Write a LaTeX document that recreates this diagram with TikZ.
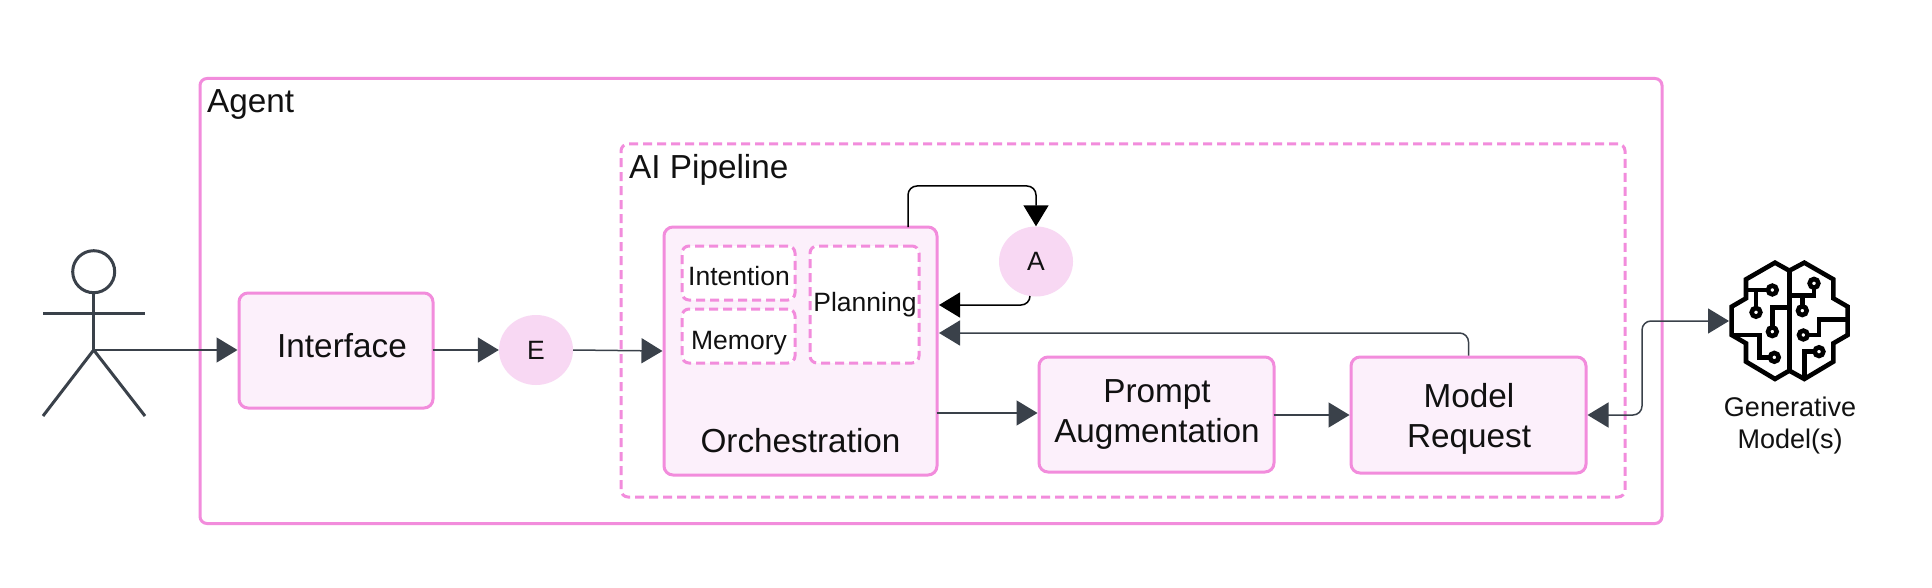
\documentclass[tikz,border=0pt]{standalone}
\usepackage{fontspec}
\setmainfont{Liberation Sans}
\usetikzlibrary{arrows.meta,calc,shapes.geometric}
\definecolor{pinkline}{HTML}{F28CDC}
\definecolor{pinkfill}{HTML}{FCF0FB}
\definecolor{pinkdisc}{HTML}{F8D8F3}
\definecolor{slateline}{HTML}{3A414A}
\definecolor{inktext}{HTML}{111111}
\tikzset{
  big/.style={font=\fontsize{33.3}{40}\selectfont,text=inktext,align=center,inner sep=0pt},
  small/.style={font=\fontsize{26.5}{32}\selectfont,text=inktext,align=center,inner sep=0pt},
  gen/.style={font=\fontsize{27}{32}\selectfont,text=inktext,align=center,inner sep=0pt},
  container/.style={draw=pinkline,line width=3pt,rounded corners=7pt,inner sep=0pt},
  dashedbox/.style={draw=pinkline,line width=3pt,rounded corners=7pt,dash pattern=on 9pt off 5pt,fill=white,inner sep=0pt},
  solidbox/.style={draw=pinkline,line width=3pt,rounded corners=9pt,fill=pinkfill,align=center,inner sep=0pt},
  disc/.style={ellipse,fill=pinkdisc,inner sep=0pt,minimum width=74pt,minimum height=70pt},
  conn/.style={draw=slateline,line width=1.5pt,rounded corners=9pt,-{Triangle[length=21pt,width=25pt]}},
  blackconn/.style={draw=black,line width=1.5pt,rounded corners=9pt,-{Triangle[length=21pt,width=25pt]}},
  twoway/.style={draw=slateline,line width=1.5pt,rounded corners=9pt,{Triangle[length=21pt,width=25pt]}-{Triangle[length=21pt,width=25pt]}},
  iconline/.style={draw=black,line width=4.6pt,line join=miter},
  actorline/.style={draw=slateline,line width=3pt},
}
\begin{document}
\begin{tikzpicture}[x=1pt,y=-1pt]
\useasboundingbox[fill=white] (0,0) rectangle (1932,588);
% containers
\node[container,minimum width=1462pt,minimum height=445pt] (agent) at (931,301) {};
\node[big,anchor=west] (agentlabel) at (207,105) {Agent};
\node[dashedbox,minimum width=1004pt,minimum height=353pt] (pipeline) at (1123,320.5) {};
\node[big,anchor=west] (pipelabel) at (629,170) {AI Pipeline};
% boxes
\node[solidbox,minimum width=194pt,minimum height=115pt] (interface) at (336,350.5) {};
\node[big] (interfacelabel) at (342,346) {Interface};
\node[solidbox,minimum width=273pt,minimum height=248pt] (orch) at (800.5,351) {};
\node[big] (orchlabel) at (800.5,441) {Orchestration};
\node[dashedbox,minimum width=113pt,minimum height=54pt] (intention) at (738.5,273) {};
\node[small] (intentionlabel) at (739,276) {Intention};
\node[dashedbox,minimum width=113pt,minimum height=54pt] (memory) at (738.5,336) {};
\node[small] (memorylabel) at (739,343) {Memory};
\node[dashedbox,minimum width=109pt,minimum height=117pt] (planning) at (864.5,304.5) {};
\node[small] (planninglabel) at (865,305) {Planning};
\node[solidbox,minimum width=235pt,minimum height=115pt] (prompt) at (1156.5,414.5) {};
\node[big] (promptlabel) at (1157,414) {Prompt\\Augmentation};
\node[solidbox,minimum width=235pt,minimum height=116pt] (model) at (1468.5,415) {};
\node[big] (modellabel) at (1469,419) {Model\\Request};
\node[disc] (e) at (536,350) {};
\node[small] at (e.center) (elabel) {E};
\node[disc] (a) at (1036,261.5) {};
\node[small] at (a.center) (alabel) {A};
% actor
\node[circle,draw=slateline,line width=3pt,minimum size=42pt,inner sep=0pt] (head) at (93.7,271.7) {};
\coordinate (hip) at (93.7,350);
\draw[actorline] (head.south) -- (hip);
\coordinate (armL) at (43,313);
\coordinate (armR) at (145,313);
\coordinate (legL) at (43,416);
\coordinate (legR) at (145,416);
\draw[actorline] (armL) -- (armR);
\draw[actorline] (legL) -- (hip) -- (legR);
% connectors
\draw[conn] (hip) -- (interface.west |- hip);
\draw[conn,shorten <=-2pt] (interface.east |- e.west) -- (e.west);
\draw[conn] (e.east) -- (orch.west);
\coordinate (orchR) at ($(orch.east)+(0,62)$);
\draw[conn,shorten <=-2pt] (orchR) -- (prompt.west |- orchR);
\draw[conn,shorten <=-2pt] (prompt.east |- model.west) -- (model.west);
\coordinate (retB) at (939,333);
\draw[conn] (model.north) |- (retB);
\coordinate (orchtop) at (908,227);
\draw[blackconn] (orchtop) -- (908,186) -- (a.north |- 0,186) -- (a.north);
\coordinate (aout) at (1030,296);
\coordinate (orchA) at (939,305);
\draw[blackconn] (aout) |- (orchA);
\coordinate (brainin) at (1729,321);
\draw[twoway] (model.east) -- (1642,415) -- (1642,321) -- (brainin);
% brain icon
\begin{scope}[shift={(1680,230)},x=0.3333pt,y=-0.3333pt]
\draw[iconline] (328,122)--(285,98)--(198,148)--(198,205)--(155,230)--(155,315)--(198,340)--(198,395)--(285,447)--(328,422)--(373,447)--(460,395)--(460,340)--(503,315)--(503,230)--(460,205)--(460,148)--(373,98)--cycle;
\draw[iconline] (328,122)--(328,422);
\draw[iconline] (205,180)--(262,180);
\draw[iconline] (228,180)--(228,232);
\draw[iconline] (328,232)--(277,232)--(277,290);
\draw[iconline] (155,315)--(238,315)--(238,382)--(268,382);
\draw[iconline] (328,197)--(402,197)--(402,175);
\draw[iconline] (367,197)--(367,228);
\draw[iconline] (503,268)--(417,268)--(417,315)--(385,315);
\draw[iconline] (373,447)--(373,365)--(402,365);
\foreach \cx/\cy in {277/180,228/247,277/305,283/382,402/160,367/242,370/315,417/365}
  \draw[draw=black,line width=4.6pt,fill=white] (\cx,\cy) circle (13);
\end{scope}
\node[gen] (genlabel) at (1790,426) {Generative\\Model(s)};
\end{tikzpicture}
\end{document}
